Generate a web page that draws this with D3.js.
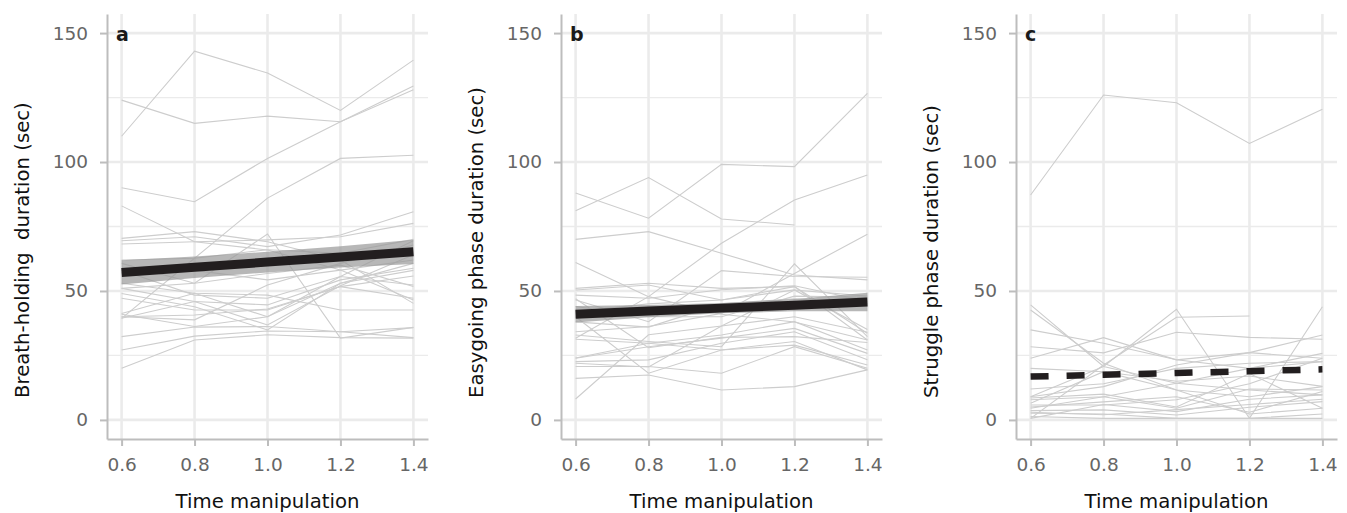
<!DOCTYPE html>
<html lang="en">
<head>
    <meta charset="UTF-8">
    <title>Time manipulation panels</title>
    <style>
        * { margin: 0; padding: 0; }
        body { background: #fff; }
        svg { display: block; font-family: "DejaVu Sans", sans-serif; }
    </style>
</head>
<body>
    <div id="chart"></div>
    <script src="https://cdn.jsdelivr.net/npm/d3@7"></script>
    <script>
        // x positions shared by every subject line
        const timeLevels = [0.6, 0.8, 1.0, 1.2, 1.4]
        const yTicks = [0, 50, 100, 150]
        const yMinor = [25, 75, 125]

        const panelLetters = ['a', 'b', 'c']
        const yTitles = ['Breath-holding  duration (sec)', 'Easygoing phase duration (sec)', 'Struggle phase duration (sec)']
        const xTitle = 'Time manipulation'

        // panel a: breath-holding duration, one row per subject
        const breathHolding = [
            [110, 143, 134.5, 120, 139.5],
            [124, 115, 117.8, 115.6, 128],
            [90, 84.6, 101.4, 115.6, 129.5],
            [39.4, 62.7, 86, 101.4, 102.6],
            [83, 69.1, 65.9, 58.1, 46.5],
            [70.4, 73, 69.1, 62, 45.2],
            [69.5, 71, 67.2, 71.7, 80.7],
            [68.2, 69.1, 69.8, 71, 76.2],
            [51, 53, 72.1, 31.7, 35.9],
            [32.3, 36, 36.2, 34.2, 35.8],
            [27.1, 32.5, 34.5, 34.2, 31.9],
            [20, 31, 33, 31.9, 31.7],
            [40, 38.8, 52.3, 60.7, 67.8],
            [41.3, 49.1, 40, 53, 60.7],
            [39.4, 45.9, 44.6, 54.3, 58.8],
            [47.2, 42.6, 42.6, 51.7, 55.8],
            [58, 48.4, 47.2, 55.6, 52.3],
            [53, 49.1, 48.4, 42.6, 42.6],
            [60.7, 53, 56.8, 60, 51.7],
            [51, 45.9, 36.8, 52, 64],
            [40, 40.7, 43, 51.7, 47.2],
            [62, 62.7, 66, 64.6, 70],
            [57, 58, 54.3, 58.1, 62],
            [49, 43.9, 34.9, 53, 58],
            [41, 36.2, 40, 55.6, 69.5]
        ]
        const breathFit = [57.2, 59.2, 61.2, 63.2, 65.2]
        const breathLow = [52.5, 55, 57.2, 59.1, 60.5]
        const breathHigh = [61.9, 63.4, 65.2, 67.3, 69.9]

        // panel b: easygoing phase
        const easygoing = [
            [88, 78.2, 99.1, 98.2, 126.6],
            [81.1, 94, 77.9, 75.6, null],
            [70, 73, 64.6, 56.2, 54.3],
            [31.7, 47.8, 68.5, 85.3, 95],
            [61, 47.8, 41, 38, 31],
            [51, 53, 51, 51.7, 33.6],
            [50.4, 52.3, 46.5, 50.4, 35.1],
            [48.4, 47.2, 50.5, 52, 46],
            [46.5, 38.1, 57.9, 55.6, 55.3],
            [34.2, 36.2, 41.3, 56.8, 72],
            [32.9, 30.4, 28.4, 60.5, 32.3],
            [31.3, 29.7, 32.9, 38.1, 27.1],
            [23.9, 28.4, 31.7, 35.5, 25.8],
            [22.6, 23.3, 29.7, 34.2, 23.3],
            [20.7, 20.7, 18.1, 28.4, 20],
            [16.1, 17.4, 11.6, 12.9, 19.4],
            [8.1, 33, 36.4, 50.4, 48],
            [44, 40, 40, 48, 47.5],
            [38, 36, 45, 47, 45],
            [42, 45, 46.5, 51.7, 31],
            [24, 29.7, 27.1, 29, 21.3],
            [40, 18.1, 27.1, 30.4, 19.4],
            [47, 28, 32, 32.3, 30],
            [22, 20.5, 36.4, 40, 34]
        ]
        const easyFit = [41, 42.2, 43.35, 44.5, 45.7]
        const easyLow = [37.8, 39.8, 41.35, 42.1, 42.1]
        const easyHigh = [44.2, 44.6, 45.35, 46.9, 49.3]

        // panel c: struggle phase
        const struggle = [
            [87.2, 126, 123, 107.2, 120.5],
            [44.6, 20.7, 14.2, 11.6, 9.7],
            [42.6, 22, 11.6, 2.3, 4.5],
            [34.9, 29.7, 23.3, 20, 22.6],
            [28.4, 26, 34, 32, 31.3],
            [23.9, 31.9, 23.3, 26.1, 23.9],
            [9, 20.7, 42.9, 0.6, 43.9],
            [0.6, 21.3, 39.8, 40.3, null],
            [9, 12.9, 21.3, 26.1, 32.9],
            [7.8, 9, 14.2, 20, 25.8],
            [6.5, 18.7, 11.6, 9, 12.9],
            [5.8, 5.8, 7.8, 14, 23.9],
            [4.5, 9, 4.5, 12, 11.6],
            [3.6, 3.9, 1.9, 4.9, 7.1],
            [2.6, 2.3, 0.6, 0.6, 2.3],
            [1.3, 0.6, 0.6, 0.6, 0.6],
            [0.6, 6, 3.2, 8, 9.7],
            [20, 18.7, 15, 17, 13],
            [12, 14, 20, 22, 22.6],
            [8.5, 10, 5, 18, 4.5],
            [5, 7, 9, 3, 11],
            [3, 2, 4, 6, 8]
        ]
        const struggleFit = [16.8, 17.5, 18.2, 18.9, 19.6]

        function drawChart() {
            const width = 1347
            const height = 513

            const panelLefts = [107, 561, 1016]
            const panelWidth = 321
            const top = 14
            const bottom = 439

            const panels = [
                { rows: breathHolding, fit: breathFit, low: breathLow, high: breathHigh, dashed: false },
                { rows: easygoing, fit: easyFit, low: easyLow, high: easyHigh, dashed: false },
                { rows: struggle, fit: struggleFit, low: null, high: null, dashed: true }
            ]

            const svg = d3.select('#chart')
                .append('svg')
                .attr('width', width)
                .attr('height', height)

            const y = d3.scaleLinear()
                .domain([-7.4, 157.4])
                .range([bottom, top])

            panels.forEach((p, k) => {
                const x = d3.scaleLinear()
                    .domain([0.56, 1.44])
                    .range([panelLefts[k], panelLefts[k] + panelWidth])

                const g = svg.append('g')

                // grid
                g.selectAll('line.minor')
                    .data(yMinor)
                    .join('line')
                    .attr('x1', x.range()[0]).attr('x2', x.range()[1])
                    .attr('y1', d => y(d)).attr('y2', d => y(d))
                    .attr('stroke', '#ebebeb')
                    .attr('stroke-width', 1.3)

                g.selectAll('line.major-y')
                    .data(yTicks)
                    .join('line')
                    .attr('x1', x.range()[0]).attr('x2', x.range()[1])
                    .attr('y1', d => y(d)).attr('y2', d => y(d))
                    .attr('stroke', '#ebebeb')
                    .attr('stroke-width', 2.6)

                g.append('g').selectAll('line')
                    .data(timeLevels)
                    .join('line')
                    .attr('x1', d => x(d)).attr('x2', d => x(d))
                    .attr('y1', top).attr('y2', bottom)
                    .attr('stroke', '#ebebeb')
                    .attr('stroke-width', 2.6)

                // subject lines
                const line = d3.line()
                    .defined(d => d[1] != null)
                    .x(d => x(d[0]))
                    .y(d => y(d[1]))

                g.append('g').selectAll('path')
                    .data(p.rows)
                    .join('path')
                    .attr('d', r => line(r.map((v, i) => [timeLevels[i], v])))
                    .attr('fill', 'none')
                    .attr('stroke', '#cdcdcd')
                    .attr('stroke-width', 1.1)

                // confidence band
                if (p.low) {
                    const area = d3.area()
                        .x((d, i) => x(timeLevels[i]))
                        .y0(d => y(d[0]))
                        .y1(d => y(d[1]))
                    g.append('path')
                        .attr('d', area(p.low.map((v, i) => [v, p.high[i]])))
                        .attr('fill', '#999')
                        .attr('opacity', 0.7)
                }

                // fitted line
                g.append('path')
                    .attr('d', line(p.fit.map((v, i) => [timeLevels[i], v])))
                    .attr('fill', 'none')
                    .attr('stroke', '#221e1f')
                    .attr('stroke-width', p.dashed ? 6.5 : 9)
                    .attr('stroke-dasharray', p.dashed ? '18,18' : null)

                // axes
                const yAxis = g.append('g')
                    .attr('transform', `translate(${x.range()[0]},0)`)
                    .call(d3.axisLeft(y).tickValues(yTicks).tickSize(7).tickSizeOuter(0).tickPadding(12))
                const xAxis = g.append('g')
                    .attr('transform', `translate(0,${bottom})`)
                    .call(d3.axisBottom(x).tickValues(timeLevels).tickFormat(d3.format('.1f')).tickSize(7).tickSizeOuter(0).tickPadding(12))

                ;[yAxis, xAxis].forEach(a => {
                    a.select('.domain').attr('stroke', '#bdbdbd').attr('stroke-width', 2)
                    a.selectAll('.tick line').attr('stroke', '#bdbdbd').attr('stroke-width', 2)
                    a.selectAll('.tick text')
                        .attr('fill', '#666')
                        .style('font-size', '18.5px')
                        .style('font-family', '"DejaVu Sans", sans-serif')
                })

                // titles
                g.append('text')
                    .attr('x', (x.range()[0] + x.range()[1]) / 2)
                    .attr('y', 508)
                    .attr('text-anchor', 'middle')
                    .attr('fill', '#111')
                    .style('font-size', '19.7px')
                    .text(xTitle)

                g.append('text')
                    .attr('transform', `translate(${x.range()[0] - 78},398) rotate(-90)`)
                    .attr('fill', '#111')
                    .style('font-size', '19.7px')
                    .style('white-space', 'pre')
                    .text(yTitles[k])

                g.append('text')
                    .attr('x', x.range()[0] + 9)
                    .attr('y', 41)
                    .attr('fill', '#1a1a1a')
                    .style('font-size', '19px')
                    .style('font-weight', 700)
                    .text(panelLetters[k])
            })
        }

        drawChart()
    </script>
</body>
</html>
